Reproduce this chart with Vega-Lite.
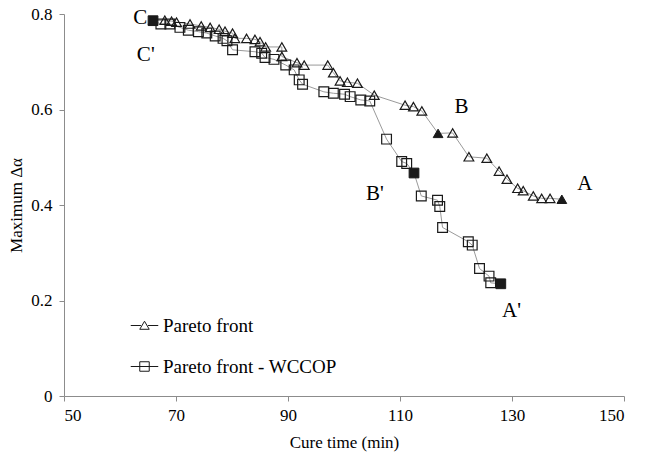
{
  "$schema": "https://vega.github.io/schema/vega-lite/v6.json",
  "width": 560,
  "height": 382,
  "autosize": {"type": "none"},
  "padding": {"left": 64, "top": 14, "right": 27, "bottom": 61},
  "background": "white",
  "config": {
    "view": {"stroke": null},
    "font": "Liberation Serif",
    "text": {"font": "Liberation Serif"},
    "axis": {
      "grid": false,
      "domainColor": "#8c8c8c",
      "tickColor": "#8c8c8c",
      "tickSize": 5,
      "labelFont": "Liberation Serif",
      "labelFontSize": 17,
      "labelColor": "#000",
      "titleFont": "Liberation Serif",
      "titleFontSize": 17,
      "titleFontWeight": "normal",
      "titleColor": "#000"
    },
    "legend": {
      "labelFont": "Liberation Serif",
      "labelFontSize": 19,
      "labelColor": "#000",
      "labelLimit": 400
    }
  },
  "resolve": {"scale": {"shape": "independent"}},
  "datasets": {
    "pts": [
      {"series": "Pareto front", "i": 0, "time": 65.9, "da": 0.786, "key": "yes"},
      {"series": "Pareto front", "i": 1, "time": 68.0, "da": 0.787, "key": "no"},
      {"series": "Pareto front", "i": 2, "time": 69.2, "da": 0.785, "key": "no"},
      {"series": "Pareto front", "i": 3, "time": 70.1, "da": 0.783, "key": "no"},
      {"series": "Pareto front", "i": 4, "time": 72.5, "da": 0.779, "key": "no"},
      {"series": "Pareto front", "i": 5, "time": 74.5, "da": 0.775, "key": "no"},
      {"series": "Pareto front", "i": 6, "time": 76.1, "da": 0.772, "key": "no"},
      {"series": "Pareto front", "i": 7, "time": 77.7, "da": 0.768, "key": "no"},
      {"series": "Pareto front", "i": 8, "time": 78.75, "da": 0.764, "key": "no"},
      {"series": "Pareto front", "i": 9, "time": 80.1, "da": 0.760, "key": "no"},
      {"series": "Pareto front", "i": 10, "time": 80.5, "da": 0.749, "key": "no"},
      {"series": "Pareto front", "i": 11, "time": 82.6, "da": 0.749, "key": "no"},
      {"series": "Pareto front", "i": 12, "time": 84.1, "da": 0.747, "key": "no"},
      {"series": "Pareto front", "i": 13, "time": 85.0, "da": 0.742, "key": "no"},
      {"series": "Pareto front", "i": 14, "time": 86.0, "da": 0.731, "key": "no"},
      {"series": "Pareto front", "i": 15, "time": 88.9, "da": 0.731, "key": "no"},
      {"series": "Pareto front", "i": 16, "time": 88.9, "da": 0.711, "key": "no"},
      {"series": "Pareto front", "i": 17, "time": 91.6, "da": 0.698, "key": "no"},
      {"series": "Pareto front", "i": 18, "time": 92.9, "da": 0.693, "key": "no"},
      {"series": "Pareto front", "i": 19, "time": 97.1, "da": 0.693, "key": "no"},
      {"series": "Pareto front", "i": 20, "time": 98.1, "da": 0.677, "key": "no"},
      {"series": "Pareto front", "i": 21, "time": 99.3, "da": 0.660, "key": "no"},
      {"series": "Pareto front", "i": 22, "time": 100.6, "da": 0.657, "key": "no"},
      {"series": "Pareto front", "i": 23, "time": 102.4, "da": 0.655, "key": "no"},
      {"series": "Pareto front", "i": 24, "time": 105.4, "da": 0.630, "key": "no"},
      {"series": "Pareto front", "i": 25, "time": 110.9, "da": 0.609, "key": "no"},
      {"series": "Pareto front", "i": 26, "time": 112.4, "da": 0.606, "key": "no"},
      {"series": "Pareto front", "i": 27, "time": 113.9, "da": 0.597, "key": "no"},
      {"series": "Pareto front", "i": 28, "time": 116.8, "da": 0.550, "key": "yes"},
      {"series": "Pareto front", "i": 29, "time": 119.4, "da": 0.551, "key": "no"},
      {"series": "Pareto front", "i": 30, "time": 122.3, "da": 0.501, "key": "no"},
      {"series": "Pareto front", "i": 31, "time": 125.5, "da": 0.498, "key": "no"},
      {"series": "Pareto front", "i": 32, "time": 127.7, "da": 0.471, "key": "no"},
      {"series": "Pareto front", "i": 33, "time": 129.1, "da": 0.454, "key": "no"},
      {"series": "Pareto front", "i": 34, "time": 131.0, "da": 0.435, "key": "no"},
      {"series": "Pareto front", "i": 35, "time": 132.0, "da": 0.430, "key": "no"},
      {"series": "Pareto front", "i": 36, "time": 133.8, "da": 0.419, "key": "no"},
      {"series": "Pareto front", "i": 37, "time": 135.3, "da": 0.414, "key": "no"},
      {"series": "Pareto front", "i": 38, "time": 136.8, "da": 0.414, "key": "no"},
      {"series": "Pareto front", "i": 39, "time": 138.9, "da": 0.412, "key": "yes"},
      {"series": "Pareto front - WCCOP", "i": 0, "time": 65.9, "da": 0.786, "key": "yes"},
      {"series": "Pareto front - WCCOP", "i": 1, "time": 67.3, "da": 0.779, "key": "no"},
      {"series": "Pareto front - WCCOP", "i": 2, "time": 68.9, "da": 0.779, "key": "no"},
      {"series": "Pareto front - WCCOP", "i": 3, "time": 70.7, "da": 0.772, "key": "no"},
      {"series": "Pareto front - WCCOP", "i": 4, "time": 72.2, "da": 0.766, "key": "no"},
      {"series": "Pareto front - WCCOP", "i": 5, "time": 74.0, "da": 0.763, "key": "no"},
      {"series": "Pareto front - WCCOP", "i": 6, "time": 75.5, "da": 0.760, "key": "no"},
      {"series": "Pareto front - WCCOP", "i": 7, "time": 77.0, "da": 0.754, "key": "no"},
      {"series": "Pareto front - WCCOP", "i": 8, "time": 78.4, "da": 0.749, "key": "no"},
      {"series": "Pareto front - WCCOP", "i": 9, "time": 79.1, "da": 0.744, "key": "no"},
      {"series": "Pareto front - WCCOP", "i": 10, "time": 80.1, "da": 0.725, "key": "no"},
      {"series": "Pareto front - WCCOP", "i": 11, "time": 84.1, "da": 0.721, "key": "no"},
      {"series": "Pareto front - WCCOP", "i": 12, "time": 85.3, "da": 0.718, "key": "no"},
      {"series": "Pareto front - WCCOP", "i": 13, "time": 85.9, "da": 0.709, "key": "no"},
      {"series": "Pareto front - WCCOP", "i": 14, "time": 87.5, "da": 0.705, "key": "no"},
      {"series": "Pareto front - WCCOP", "i": 15, "time": 89.6, "da": 0.693, "key": "no"},
      {"series": "Pareto front - WCCOP", "i": 16, "time": 91.1, "da": 0.683, "key": "no"},
      {"series": "Pareto front - WCCOP", "i": 17, "time": 92.0, "da": 0.662, "key": "no"},
      {"series": "Pareto front - WCCOP", "i": 18, "time": 92.6, "da": 0.653, "key": "no"},
      {"series": "Pareto front - WCCOP", "i": 19, "time": 96.4, "da": 0.637, "key": "no"},
      {"series": "Pareto front - WCCOP", "i": 20, "time": 98.1, "da": 0.634, "key": "no"},
      {"series": "Pareto front - WCCOP", "i": 21, "time": 100.1, "da": 0.632, "key": "no"},
      {"series": "Pareto front - WCCOP", "i": 22, "time": 101.1, "da": 0.627, "key": "no"},
      {"series": "Pareto front - WCCOP", "i": 23, "time": 103.0, "da": 0.620, "key": "no"},
      {"series": "Pareto front - WCCOP", "i": 24, "time": 104.6, "da": 0.618, "key": "no"},
      {"series": "Pareto front - WCCOP", "i": 25, "time": 107.6, "da": 0.538, "key": "no"},
      {"series": "Pareto front - WCCOP", "i": 26, "time": 110.3, "da": 0.491, "key": "no"},
      {"series": "Pareto front - WCCOP", "i": 27, "time": 111.2, "da": 0.487, "key": "no"},
      {"series": "Pareto front - WCCOP", "i": 28, "time": 112.5, "da": 0.467, "key": "yes"},
      {"series": "Pareto front - WCCOP", "i": 29, "time": 113.8, "da": 0.419, "key": "no"},
      {"series": "Pareto front - WCCOP", "i": 30, "time": 116.7, "da": 0.410, "key": "no"},
      {"series": "Pareto front - WCCOP", "i": 31, "time": 117.1, "da": 0.397, "key": "no"},
      {"series": "Pareto front - WCCOP", "i": 32, "time": 117.6, "da": 0.353, "key": "no"},
      {"series": "Pareto front - WCCOP", "i": 33, "time": 122.2, "da": 0.323, "key": "no"},
      {"series": "Pareto front - WCCOP", "i": 34, "time": 122.9, "da": 0.316, "key": "no"},
      {"series": "Pareto front - WCCOP", "i": 35, "time": 124.2, "da": 0.267, "key": "no"},
      {"series": "Pareto front - WCCOP", "i": 36, "time": 125.9, "da": 0.251, "key": "no"},
      {"series": "Pareto front - WCCOP", "i": 37, "time": 126.2, "da": 0.237, "key": "no"},
      {"series": "Pareto front - WCCOP", "i": 38, "time": 128.0, "da": 0.235, "key": "yes"}
    ],
    "labels": [
      {"text": "A", "time": 143.0, "da": 0.444},
      {"text": "B", "time": 121.0, "da": 0.606},
      {"text": "C", "time": 63.6, "da": 0.791},
      {"text": "A'", "time": 129.9, "da": 0.177},
      {"text": "B'", "time": 105.5, "da": 0.424},
      {"text": "C'", "time": 64.6, "da": 0.714}
    ]
  },
  "encoding": {
    "x": {
      "field": "time", "type": "quantitative",
      "scale": {"domain": [50, 150], "nice": false, "zero": false},
      "axis": {"values": [50, 70, 90, 110, 130, 150], "title": "Cure time (min)", "labelPadding": 6, "titlePadding": 11, "labelFont": "Liberation Serif", "titleFont": "Liberation Serif", "labelFontSize": 17, "titleFontSize": 17}
    },
    "y": {
      "field": "da", "type": "quantitative",
      "scale": {"domain": [0, 0.8], "nice": false},
      "axis": {"values": [0, 0.2, 0.4, 0.6, 0.8], "format": ".1~f", "title": "Maximum Δα", "labelPadding": 7, "titlePadding": 5, "labelFont": "Liberation Serif", "titleFont": "Liberation Serif", "labelFontSize": 17, "titleFontSize": 17}
    }
  },
  "layer": [
    {
      "data": {"name": "pts"},
      "mark": {"type": "line", "stroke": "#9a9a9a", "strokeWidth": 1},
      "encoding": {
        "detail": {"field": "series"},
        "order": {"field": "i", "type": "quantitative"}
      }
    },
    {
      "data": {"name": "pts"},
      "transform": [{"filter": "datum.key == 'no'"}],
      "mark": {"type": "point", "filled": false, "stroke": "#1a1a1a", "strokeWidth": 1.2, "size": 95, "opacity": 1},
      "encoding": {
        "shape": {
          "field": "series", "type": "nominal",
          "scale": {"domain": ["Pareto front", "Pareto front - WCCOP"], "range": ["triangle-up", "square"]},
          "legend": null
        }
      }
    },
    {
      "data": {"name": "pts"},
      "transform": [{"filter": "datum.key == 'yes'"}],
      "mark": {"type": "point", "filled": true, "fill": "#1a1a1a", "stroke": "#1a1a1a", "strokeWidth": 1, "size": 95, "opacity": 1},
      "encoding": {
        "shape": {
          "field": "series", "type": "nominal",
          "scale": {"domain": ["Pareto front", "Pareto front - WCCOP"], "range": ["triangle-up", "square"]},
          "legend": null
        }
      }
    },
    {
      "data": {"name": "pts"},
      "transform": [{"filter": "datum.i < 0"}],
      "mark": {"type": "point", "filled": false, "stroke": "#1a1a1a", "strokeWidth": 1, "size": 90, "opacity": 1},
      "encoding": {
        "shape": {
          "field": "series", "type": "nominal",
          "scale": {"domain": ["Pareto front", "Pareto front - WCCOP"], "range": ["M-2.9,0H-0.75M0.75,0H2.9M0,-0.9L1,0.8H-1Z", "M-2.9,0H2.9M-1,-1H1V1H-1Z"]},
          "legend": {
            "title": null,
            "orient": "none",
            "legendX": 71,
            "legendY": 302,
            "symbolSize": 90,
            "symbolStrokeWidth": 1,
            "symbolStrokeColor": "#1a1a1a",
            "labelOffset": 9,
            "rowPadding": 21,
            "padding": 0,
            "labelLimit": 400,
            "labelFont": "Liberation Serif",
            "labelFontSize": 19
          }
        }
      }
    },
    {
      "data": {"name": "labels"},
      "mark": {"type": "text", "font": "Liberation Serif", "fontSize": 21, "color": "#000", "align": "center", "baseline": "middle"},
      "encoding": {
        "text": {"field": "text"}
      }
    }
  ]
}
